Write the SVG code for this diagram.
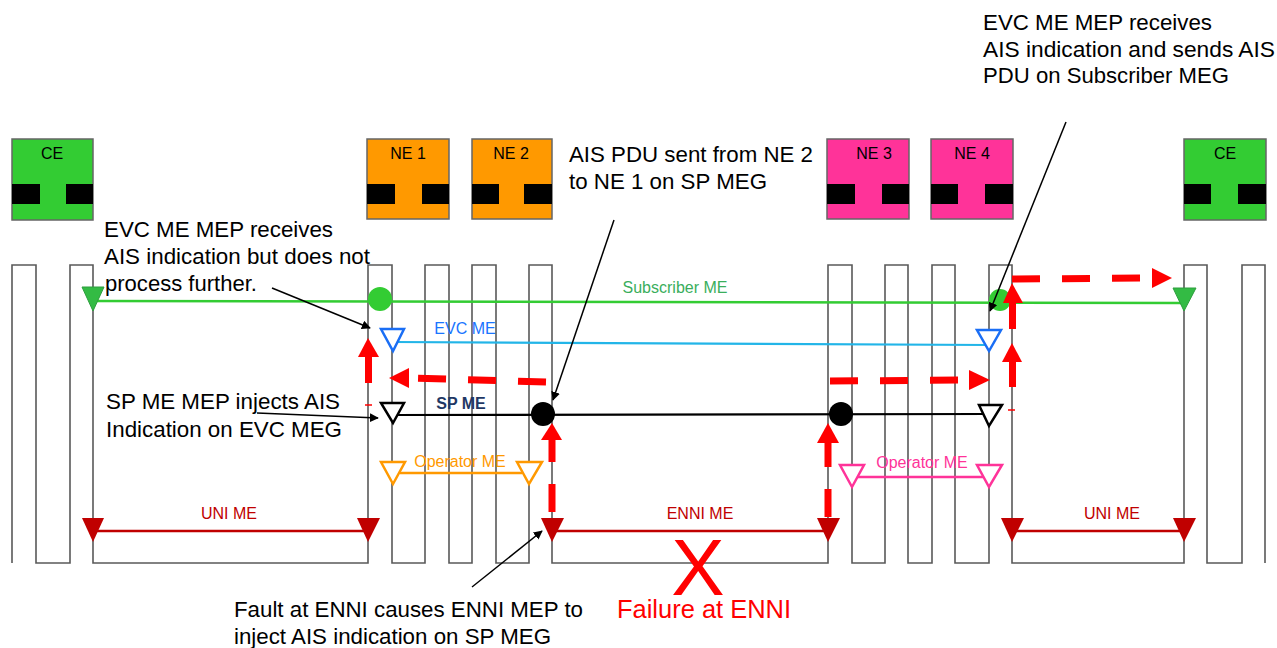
<svg xmlns="http://www.w3.org/2000/svg" width="1277" height="648" viewBox="0 0 1277 648">
<defs>
<style>
.txt{font-family:"Liberation Sans",Arial,sans-serif;fill:#000;font-size:22px}
.lbl{font-family:"Liberation Sans",Arial,sans-serif;font-size:16px;text-anchor:middle}
.box{stroke:#666;stroke-width:1.5}
.port{fill:#000}
.col{fill:none;stroke:#595959;stroke-width:1.6}
.red{fill:#ff0000}
.dash{fill:none;stroke:#ff0000;stroke-width:7;stroke-dasharray:28 22}
.ann{fill:none;stroke:#000;stroke-width:1.5;marker-end:url(#ah)}
</style>
<marker id="ah" viewBox="0 0 10 10" refX="9" refY="5" markerWidth="9" markerHeight="9" markerUnits="userSpaceOnUse" orient="auto">
<path d="M0,0 L10,5 L0,10 z" fill="#000"/>
</marker>
</defs>
<rect width="1277" height="648" fill="#fff"/>

<g id="ce-left">
<rect class="box" x="12" y="139" width="81" height="81" fill="#33cc33"/>
<rect class="port" x="12" y="184" width="28" height="20"/>
<rect class="port" x="66" y="184" width="27" height="20"/>
<text class="lbl" x="52" y="159" fill="#000">CE</text>
</g>
<g id="ne1">
<rect class="box" x="367" y="139" width="82" height="80" fill="#ff9900"/>
<rect class="port" x="367" y="184" width="28" height="20"/>
<rect class="port" x="422" y="184" width="27" height="20"/>
<text class="lbl" x="408" y="159" fill="#000">NE 1</text>
</g>
<g id="ne2">
<rect class="box" x="472" y="139" width="80" height="80" fill="#ff9900"/>
<rect class="port" x="472" y="184" width="27" height="20"/>
<rect class="port" x="524" y="184" width="28" height="20"/>
<text class="lbl" x="511" y="159" fill="#000">NE 2</text>
</g>
<g id="ne3">
<rect class="box" x="827" y="139" width="82" height="80" fill="#ff3399"/>
<rect class="port" x="827" y="184" width="28" height="20"/>
<rect class="port" x="882" y="184" width="27" height="20"/>
<text class="lbl" x="874" y="159" fill="#000">NE 3</text>
</g>
<g id="ne4">
<rect class="box" x="931" y="139" width="82" height="80" fill="#ff3399"/>
<rect class="port" x="931" y="184" width="27" height="20"/>
<rect class="port" x="985" y="184" width="28" height="20"/>
<text class="lbl" x="972" y="159" fill="#000">NE 4</text>
</g>
<g id="ce-right">
<rect class="box" x="1184" y="139" width="82" height="81" fill="#33cc33"/>
<rect class="port" x="1184" y="184" width="27" height="20"/>
<rect class="port" x="1238" y="184" width="28" height="20"/>
<text class="lbl" x="1225" y="159" fill="#000">CE</text>
</g>

<g id="ports-path">
<path class="col" d="M12,563 V265 H36 V563 H70 V265 H93 V563 H368 V265 H392 V563 H425 V265 H449 V563 H472 V265 H496 V563 H529 V265 H552 V563 H828 V265 H852 V563 H885 V265 H908 V563 H932 V265 H955 V563 H989 V265 H1012 V563 H1184 V265 H1207 V563 H1242 V265 H1265 V563"/>
</g>

<g id="subscriber-me">
<line x1="93" y1="301" x2="1184" y2="303" stroke="#33cc33" stroke-width="2.5"/>
<polygon points="82,287 104,287 93,311" fill="#33bb44" stroke="#2e9e3e" stroke-width="1"/>
<polygon points="1173,288 1196,288 1184,311" fill="#33bb44" stroke="#2e9e3e" stroke-width="1"/>
<circle cx="380" cy="299" r="12" fill="#33cc33"/>
<circle cx="1000" cy="300" r="11" fill="#33cc33"/>
<text class="lbl" x="675" y="293" fill="#3aae5c">Subscriber ME</text>
</g>

<g id="evc-me">
<line x1="393" y1="342" x2="989" y2="345" stroke="#22b5e8" stroke-width="2.2"/>
<polygon points="381,329 404,329 393,351" fill="#fff" stroke="#1a6ef5" stroke-width="2.5"/>
<polygon points="977,330 1001,330 989,351" fill="#fff" stroke="#1a6ef5" stroke-width="2.5"/>
<text class="lbl" x="465" y="334" fill="#1a75ff">EVC ME</text>
</g>

<g id="sp-me">
<line x1="393" y1="415" x2="989" y2="414" stroke="#000" stroke-width="2.2"/>
<polygon points="381,403 404,403 393,423" fill="#fff" stroke="#000" stroke-width="2.5"/>
<polygon points="979,405 1002,405 989,426" fill="#fff" stroke="#000" stroke-width="2.5"/>
<circle cx="543" cy="414" r="12" fill="#000"/>
<circle cx="841" cy="414" r="12" fill="#000"/>
<text class="lbl" x="461" y="409" fill="#1f3864" font-weight="bold">SP ME</text>
</g>

<g id="operator-me-left">
<line x1="400" y1="473" x2="522" y2="473" stroke="#ff9900" stroke-width="2.5"/>
<polygon points="381,462 405,462 393,484" fill="#fff" stroke="#ff9900" stroke-width="2.5"/>
<polygon points="517,462 542,462 529,484" fill="#fff" stroke="#ff9900" stroke-width="2.5"/>
<text class="lbl" x="460" y="467" fill="#ff9900">Operator ME</text>
</g>

<g id="operator-me-right">
<line x1="858" y1="477" x2="983" y2="477" stroke="#ff3399" stroke-width="2.5"/>
<polygon points="840,465 864,465 852,487" fill="#fff" stroke="#ff3399" stroke-width="2.5"/>
<polygon points="977,465 1002,465 989,487" fill="#fff" stroke="#ff3399" stroke-width="2.5"/>
<text class="lbl" x="922" y="468" fill="#ff3399">Operator ME</text>
</g>

<g id="uni-me-left">
<line x1="93" y1="531" x2="368" y2="531" stroke="#c00000" stroke-width="2.5"/>
<polygon points="82,518 104,518 93,542" fill="#c00000"/>
<polygon points="357,518 380,518 368,542" fill="#c00000"/>
<text class="lbl" x="229" y="519" fill="#c00000">UNI ME</text>
</g>
<g id="enni-me">
<line x1="552" y1="531" x2="828" y2="531" stroke="#c00000" stroke-width="2.5"/>
<polygon points="541,518 564,518 552,542" fill="#c00000"/>
<polygon points="817,518 840,518 828,542" fill="#c00000"/>
<text class="lbl" x="700" y="519" fill="#c00000">ENNI ME</text>
</g>
<g id="uni-me-right">
<line x1="1012" y1="531" x2="1184" y2="531" stroke="#c00000" stroke-width="2.5"/>
<polygon points="1001,518 1024,518 1012,542" fill="#c00000"/>
<polygon points="1173,518 1196,518 1184,542" fill="#c00000"/>
<text class="lbl" x="1112" y="519" fill="#c00000">UNI ME</text>
</g>

<g id="connectors">
<!-- red AIS flows -->
<path class="dash" d="M552,512 V440"/>
<polygon class="red" points="541,440 562,440 552,423"/>
<path class="dash" d="M546,382 L409,378"/>
<polygon class="red" points="409,368 409,388 389,378"/>
<rect class="red" x="365" y="357" width="7" height="26"/>
<polygon class="red" points="358,357 379,357 368,338"/>
<line x1="365" y1="405" x2="372" y2="405" stroke="#ff0000" stroke-width="1.5"/>

<path class="dash" d="M828,517 V443"/>
<polygon class="red" points="817,443 839,443 828,423"/>
<path class="dash" d="M830,381 L969,380"/>
<polygon class="red" points="969,370 969,390 990,380"/>
<rect class="red" x="1009" y="362" width="7" height="25"/>
<polygon class="red" points="1002,362 1022,362 1012,343"/>
<line x1="1008" y1="410" x2="1015" y2="410" stroke="#ff0000" stroke-width="1.5"/>
<rect class="red" x="1009" y="303" width="7" height="26"/>
<polygon class="red" points="1003,303 1023,303 1012,283"/>
<path class="dash" d="M1012,279 L1152,278"/>
<polygon class="red" points="1152,268 1152,288 1172,278"/>

<!-- annotation pointers -->
<line class="ann" x1="272" y1="288" x2="370" y2="328"/>
<line class="ann" x1="257" y1="413" x2="378" y2="418"/>
<line class="ann" x1="614" y1="220" x2="553" y2="400"/>
<line class="ann" x1="1066" y1="122" x2="990" y2="311"/>
<line class="ann" x1="472" y1="587" x2="542" y2="531"/>
</g>

<g id="annotations">
<text class="txt" x="104" y="237" textLength="229" lengthAdjust="spacingAndGlyphs">EVC ME MEP receives</text>
<text class="txt" x="104" y="264" textLength="266" lengthAdjust="spacingAndGlyphs">AIS indication but does not</text>
<text class="txt" x="105" y="291" textLength="152" lengthAdjust="spacingAndGlyphs">process further.</text>
<text class="txt" x="106" y="409" textLength="234" lengthAdjust="spacingAndGlyphs">SP ME MEP injects AIS</text>
<text class="txt" x="106" y="437" textLength="236" lengthAdjust="spacingAndGlyphs">Indication on EVC MEG</text>
<text class="txt" x="569" y="162" textLength="244" lengthAdjust="spacingAndGlyphs">AIS PDU sent from NE 2</text>
<text class="txt" x="569" y="189" textLength="198" lengthAdjust="spacingAndGlyphs">to NE 1 on SP MEG</text>
<text class="txt" x="983" y="30" textLength="229" lengthAdjust="spacingAndGlyphs">EVC ME MEP receives</text>
<text class="txt" x="983" y="57" textLength="292" lengthAdjust="spacingAndGlyphs">AIS indication and sends AIS</text>
<text class="txt" x="983" y="83" textLength="246" lengthAdjust="spacingAndGlyphs">PDU on Subscriber MEG</text>
<text class="txt" x="234" y="617" textLength="349" lengthAdjust="spacingAndGlyphs">Fault at ENNI causes ENNI MEP to</text>
<text class="txt" x="234" y="644" textLength="317" lengthAdjust="spacingAndGlyphs">inject AIS indication on SP MEG</text>
<text x="698" y="595" font-family="Liberation Sans, Arial, sans-serif" font-size="80" fill="#ff0000" text-anchor="middle">X</text>
<text x="617" y="618" font-family="Liberation Sans, Arial, sans-serif" font-size="25.5" fill="#ff0000" textLength="174" lengthAdjust="spacingAndGlyphs">Failure at ENNI</text>
</g>
</svg>
